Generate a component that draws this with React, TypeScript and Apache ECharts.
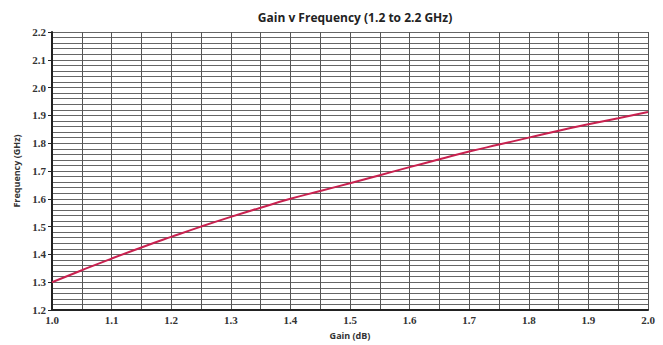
import React, { useEffect, useRef } from "react";
import * as echarts from "echarts";

const gainDb = [1.0, 1.05, 1.1, 1.15, 1.2, 1.25, 1.3, 1.35, 1.4, 1.45, 1.5, 1.55, 1.6, 1.65, 1.7, 1.75, 1.8, 1.85, 1.9, 1.95, 2.0];
const freqGHz = [1.3, 1.343, 1.385, 1.425, 1.463, 1.5, 1.535, 1.568, 1.6, 1.628, 1.656, 1.685, 1.714, 1.742, 1.77, 1.795, 1.82, 1.845, 1.868, 1.89, 1.912];

const titleText = "Gain v Frequency (1.2 to 2.2 GHz)";
const xName = "Gain (dB)";
const yName = "Frequency (GHz)";

export default function App() {
  const ref = useRef<HTMLDivElement>(null);
  useEffect(() => {
    if (!ref.current) return;
    const chart = echarts.init(ref.current, null, { renderer: "svg" });
    const data = gainDb.map((g, i) => [g, freqGHz[i]]);
    chart.setOption({
      animation: false,
      backgroundColor: "#ffffff",
      title: {
        text: titleText,
        left: 350,
        textAlign: "center",
        top: 6,
        textStyle: { fontFamily: "Open Sans", fontWeight: "bold", fontSize: 12, color: "#222" },
      },
      grid: { left: 52, right: 15, top: 32, bottom: 34 },
      xAxis: {
        type: "value",
        min: 1.0,
        max: 2.0,
        interval: 0.1,
        name: xName,
        nameLocation: "middle",
        nameGap: 21,
        nameTextStyle: { fontFamily: "Open Sans", fontSize: 9, fontWeight: "bold", color: "#333" },
        axisLine: { show: true, lineStyle: { color: "#222", width: 2 } },
        axisTick: { show: false },
        axisLabel: {
          margin: 4,
          fontFamily: "Liberation Serif",
          fontWeight: "bold",
          fontSize: 11,
          color: "#333",
          formatter: (v: number) => v.toFixed(1),
        },
        splitLine: { show: true, lineStyle: { color: "#555", width: 1 } },
        minorTick: { show: false, splitNumber: 2 },
        minorSplitLine: { show: true, lineStyle: { color: "#555", width: 1 } },
      },
      yAxis: {
        type: "value",
        min: 1.2,
        max: 2.2,
        interval: 0.1,
        name: yName,
        nameLocation: "middle",
        nameGap: 27,
        nameTextStyle: { fontFamily: "Open Sans", fontSize: 9, fontWeight: "bold", color: "#333" },
        axisLine: { show: true, lineStyle: { color: "#222", width: 2 } },
        axisTick: { show: true, length: 4, lineStyle: { color: "#222" } },
        axisLabel: {
          margin: 6,
          fontFamily: "Liberation Serif",
          fontWeight: "bold",
          fontSize: 11,
          color: "#333",
          formatter: (v: number) => v.toFixed(1),
        },
        splitLine: { show: true, lineStyle: { color: "#666", width: 1 } },
        minorTick: { show: false, splitNumber: 5 },
        minorSplitLine: { show: true, lineStyle: { color: "#666", width: 1 } },
      },
      series: [
        {
          type: "line",
          data,
          smooth: true,
          showSymbol: false,
          lineStyle: { color: "#c8214f", width: 2 },
        },
      ],
    });
    return () => chart.dispose();
  }, []);
  return (
    <div
      ref={ref}
      style={{ position: "absolute", left: 0, top: 0, width: 663, height: 345 }}
    />
  );
}
